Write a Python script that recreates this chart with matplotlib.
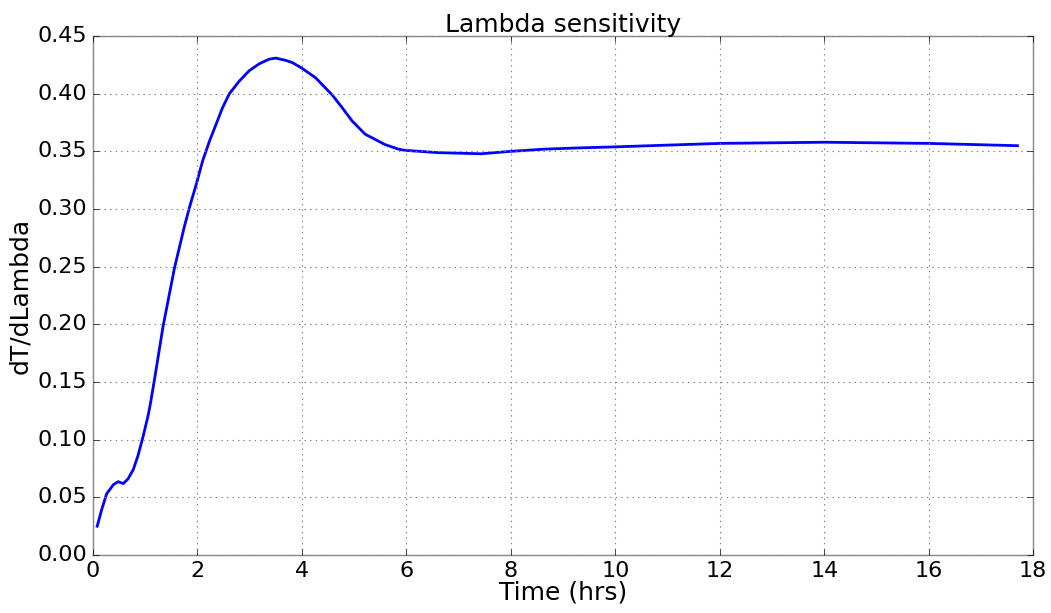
import matplotlib.pyplot as plt

# values
time_hrs = [0.08, 0.17, 0.26, 0.39, 0.48, 0.58, 0.67, 0.77, 0.86, 0.96, 1.05,
            1.09, 1.18, 1.34, 1.56, 1.75, 1.85, 1.98, 2.10, 2.23, 2.36, 2.48,
            2.61, 2.80, 2.99, 3.18, 3.37, 3.50, 3.69, 3.82, 3.99, 4.26, 4.58,
            4.77, 4.96, 5.21, 5.59, 5.85, 5.97, 6.6, 7.43, 7.97, 8.64, 9.24,
            10.0, 12.0, 14.0, 16.0, 17.7]
sensitivity = [0.025, 0.040, 0.053, 0.061, 0.0636, 0.062, 0.066, 0.074, 0.086,
               0.103, 0.120, 0.129, 0.153, 0.198, 0.249, 0.285, 0.302, 0.322,
               0.342, 0.359, 0.374, 0.388, 0.400, 0.411, 0.420, 0.426, 0.430,
               0.431, 0.429, 0.427, 0.4225, 0.414, 0.399, 0.388, 0.3765, 0.365,
               0.356, 0.352, 0.351, 0.349, 0.348, 0.350, 0.352, 0.353, 0.354,
               0.357, 0.358, 0.357, 0.355]

plt.style.use('classic')
plt.rcParams.update({'font.size': 16, 'figure.facecolor': 'white',
                     'savefig.facecolor': 'white'})

fig = plt.figure(figsize=(10.51, 6.13), dpi=100)
ax = fig.add_axes([0.0885, 0.0946, 0.8945, 0.8464])

ax.plot(time_hrs, sensitivity, color='blue', linewidth=2)

ax.set_xlim(0, 18)
ax.set_ylim(0, 0.45)
ax.set_xticks(range(0, 19, 2))
ax.set_yticks([i * 0.05 for i in range(10)])
ax.set_yticklabels(['%.2f' % (i * 0.05) for i in range(10)])
ax.tick_params(labelsize=16)
ax.grid(True, color='gray', linestyle=':', linewidth=0.8)
for side in ax.spines.values():
    side.set_color('#888888')

ax.set_title('Lambda sensitivity', fontsize=18, pad=3)
ax.set_xlabel('Time (hrs)', fontsize=18, labelpad=0)
ax.set_ylabel('dT/dLambda', fontsize=18, labelpad=4)

plt.savefig('out.png', dpi=100)
